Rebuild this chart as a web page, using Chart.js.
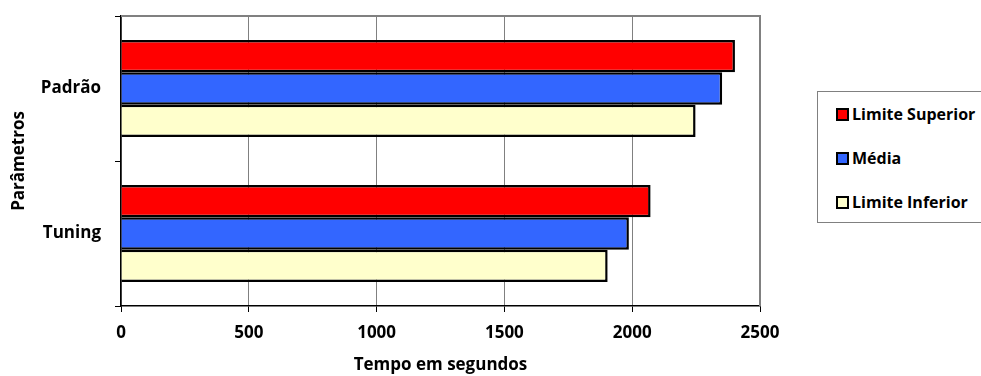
<!DOCTYPE html>
<html>
<head>
<meta charset="utf-8">
<script src="https://cdn.jsdelivr.net/npm/chart.js@4/dist/chart.umd.min.js"></script>
<style>
  html, body { margin: 0; padding: 0; background: #fff; }
  #wrap { position: relative; width: 981px; height: 376px; overflow: hidden; }
  #legend {
    position: absolute; left: 817px; top: 91px; width: 180px; height: 132px;
    border: 1.5px solid #808080; box-sizing: border-box; background: #fff;
    font-family: "Open Sans", Lato, sans-serif; font-weight: bold; font-size: 16px; color: #000;
  }
  .item { position: absolute; left: 18px; height: 22px; line-height: 22px; white-space: nowrap; }
  .sw { display: inline-block; width: 9px; height: 9px; border: 2px solid #000; vertical-align: middle; margin-right: 3px; position: relative; top: -1px; }
</style>
</head>
<body>
<div id="wrap">
  <canvas id="c" width="981" height="376"></canvas>
  <div id="legend"></div>
</div>
<script>
const categories = ["Padrão", "Tuning"];
const seriesNames = ["Limite Superior", "Média", "Limite Inferior"];
const limiteSuperior = [2402, 2072];
const media = [2352, 1987];
const limiteInferior = [2248, 1904];
const xTicks = [0, 500, 1000, 1500, 2000, 2500];
const seriesColors = ["#FF0000", "#3366FF", "#FFFFCC"];

const FONT = "'Open Sans', Lato, sans-serif";

const frame = {
  id: 'frame',
  beforeDatasetsDraw(chart) {
    const a = chart.chartArea, ctx = chart.ctx;
    ctx.save();
    ctx.strokeStyle = '#808080';
    ctx.lineWidth = 2;
    ctx.beginPath();
    ctx.moveTo(a.left, a.top);
    ctx.lineTo(a.right, a.top);
    ctx.lineTo(a.right, a.bottom);
    ctx.stroke();
    ctx.restore();
  }
};

const chart = new Chart(document.getElementById('c'), {
  type: 'bar',
  data: {
    labels: categories,
    datasets: [limiteSuperior, media, limiteInferior].map((d, i) => ({
      label: seriesNames[i],
      data: d,
      backgroundColor: seriesColors[i],
      borderColor: '#000',
      borderWidth: 2.5,
      categoryPercentage: 0.67,
      barPercentage: 1.0
    }))
  },
  options: {
    indexAxis: 'y',
    responsive: false,
    animation: false,
    layout: { padding: { top: 16, right: 221, left: 0, bottom: 0 } },
    plugins: { legend: { display: false }, tooltip: { enabled: false } },
    scales: {
      x: {
        min: 0, max: 2500,
        afterBuildTicks(s) { s.ticks = xTicks.map(v => ({ value: v })); },
        afterFit(s) { s.height = 70; },
        grid: { color: '#808080', lineWidth: 1, tickColor: '#000', tickLength: 6, drawOnChartArea: true },
        border: { color: '#000', width: 1.5 },
        ticks: { color: '#000', font: { family: FONT, weight: 'bold', size: 17 }, padding: 11,
                 callback: (v) => String(v) },
        title: { display: true, text: 'Tempo em segundos', color: '#000', font: { family: FONT, weight: 'bold', size: 17 }, padding: { top: 4, bottom: 1 } }
      },
      y: {
        afterFit(s) { s.width = 121; s.paddingTop = 0; s.paddingBottom = 0; },
        grid: { offset: true, drawOnChartArea: false, tickColor: '#000', tickLength: 6 },
        border: { color: '#000', width: 1.5 },
        ticks: { color: '#000', font: { family: FONT, weight: 'bold', size: 17 }, padding: 14 },
        title: { display: true, text: 'Parâmetros', color: '#000', font: { family: FONT, weight: 'bold', size: 17 }, padding: { top: 9, bottom: 0 } }
      }
    }
  },
  plugins: [frame]
});

const leg = document.getElementById('legend');
const rowY = [22, 66, 110];
seriesNames.forEach((n, i) => {
  const d = document.createElement('div');
  d.className = 'item';
  d.style.top = (rowY[i] - 11) + 'px';
  const sw = document.createElement('span');
  sw.className = 'sw';
  sw.style.background = seriesColors[i];
  d.appendChild(sw);
  d.appendChild(document.createTextNode(n));
  leg.appendChild(d);
});
</script>
</body>
</html>
